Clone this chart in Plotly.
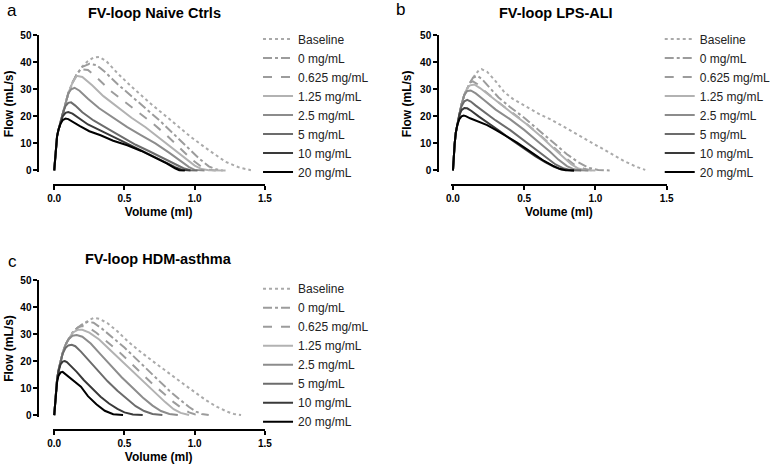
import plotly.graph_objects as go

W, H = 777, 469

DOSES = ['Baseline', '0 mg/mL', '0.625 mg/mL', '1.25 mg/mL', '2.5 mg/mL',
         '5 mg/mL', '10 mg/mL', '20 mg/mL']
TITLES = ['FV-loop Naive Ctrls', 'FV-loop LPS-ALI', 'FV-loop HDM-asthma']
LETTERS = ['a', 'b', 'c']
X_TICKS = [0, 0.5, 1.0, 1.5]
Y_TICKS = [0, 10, 20, 30, 40, 50]

# (volume ml, flow mL/s)
naive_baseline = [(0, 0), (0.005, 4), (0.012, 9), (0.02, 12.5), (0.03, 15), (0.045, 18), (0.06, 21), (0.08, 25),
                  (0.1, 28.5), (0.13, 32.5), (0.16, 35.5), (0.2, 38.5), (0.24, 40.5), (0.28, 41.8), (0.32, 42),
                  (0.37, 40.5), (0.45, 36), (0.55, 31), (0.68, 25), (0.82, 19), (0.97, 12.5), (1.1, 7.5),
                  (1.22, 3.2), (1.32, 1), (1.4, 0.1)]
naive_0 = [(0, 0), (0.005, 4), (0.012, 9), (0.02, 12.5), (0.03, 15), (0.045, 18), (0.06, 21), (0.08, 25),
           (0.1, 28.5), (0.13, 32.5), (0.16, 35.5), (0.2, 38.3), (0.25, 39.5), (0.3, 39), (0.36, 36.5),
           (0.45, 32), (0.55, 27.5), (0.65, 23), (0.75, 18.5), (0.85, 13.5), (0.95, 8.5), (1.03, 4.5),
           (1.1, 1.5), (1.15, 0.4), (1.2, 0)]
naive_0625 = [(0, 0), (0.005, 4), (0.012, 9), (0.02, 12.5), (0.03, 15), (0.045, 18), (0.06, 21), (0.08, 25),
              (0.1, 28.5), (0.13, 32.5), (0.16, 35.5), (0.2, 37.4), (0.24, 37.2), (0.3, 34.5), (0.4, 29.5),
              (0.5, 25.5), (0.6, 21.5), (0.7, 17.5), (0.8, 13), (0.9, 8), (0.98, 4), (1.05, 1.3),
              (1.1, 0.3), (1.15, 0)]
naive_125 = [(0, 0), (0.005, 4), (0.012, 9), (0.02, 12.5), (0.03, 15), (0.045, 18), (0.06, 21), (0.08, 25),
             (0.1, 28.5), (0.13, 32.5), (0.16, 35), (0.2, 34.6), (0.27, 31.5), (0.35, 27.5), (0.45, 23.5),
             (0.55, 19.5), (0.65, 16), (0.75, 12), (0.85, 8), (0.93, 4.5), (1.0, 1.8), (1.05, 0.5),
             (1.1, 0.1), (1.22, 0)]
naive_25 = [(0, 0), (0.005, 4), (0.012, 9), (0.02, 12.5), (0.03, 15), (0.045, 18), (0.06, 21), (0.08, 25),
            (0.1, 28.5), (0.12, 30), (0.145, 30.6), (0.18, 29.5), (0.24, 26.5), (0.32, 23), (0.42, 19.5),
            (0.52, 16), (0.62, 13), (0.72, 10), (0.82, 6.5), (0.9, 3.5), (0.96, 1.2), (1.0, 0.2), (1.07, 0)]
naive_5 = [(0, 0), (0.005, 4), (0.012, 9), (0.02, 12.5), (0.03, 15), (0.045, 18), (0.06, 21), (0.08, 23.8),
           (0.1, 25), (0.12, 25.2), (0.15, 24), (0.2, 21.5), (0.28, 18.5), (0.38, 15.5), (0.48, 12.5),
           (0.58, 9.5), (0.68, 7), (0.78, 4.5), (0.86, 2.2), (0.92, 0.8), (0.97, 0.1), (1.02, 0)]
naive_10 = [(0, 0), (0.005, 4), (0.012, 9), (0.02, 12.5), (0.03, 15), (0.045, 18), (0.06, 20), (0.08, 21.3),
            (0.1, 21.6), (0.13, 21), (0.17, 19.5), (0.24, 17), (0.32, 15), (0.42, 12.5), (0.52, 10),
            (0.62, 7.5), (0.72, 5), (0.8, 2.8), (0.86, 1.2), (0.91, 0.2), (0.97, 0)]
naive_20 = [(0, 0), (0.005, 4), (0.012, 9), (0.02, 12.5), (0.03, 15), (0.045, 17.3), (0.06, 18.6),
            (0.08, 19.2), (0.1, 19), (0.13, 18), (0.18, 16.5), (0.25, 14.5), (0.33, 13), (0.42, 11),
            (0.52, 9.3), (0.62, 7.2), (0.72, 4.8), (0.8, 2.6), (0.86, 0.8), (0.89, 0.1), (0.93, 0)]

lps_baseline = [(0, 0), (0.005, 5), (0.012, 10), (0.02, 14), (0.03, 17), (0.045, 21), (0.06, 24.5),
                (0.08, 28), (0.1, 30.5), (0.12, 32.5), (0.15, 35), (0.18, 37), (0.2, 37.5), (0.24, 36.5),
                (0.3, 33), (0.36, 29), (0.42, 26.5), (0.5, 24), (0.6, 21), (0.7, 18.5), (0.8, 15.5),
                (0.9, 12.5), (1.0, 9.5), (1.1, 6.5), (1.2, 3.5), (1.28, 1.5), (1.35, 0.2)]
lps_0 = [(0, 0), (0.005, 5), (0.012, 10), (0.02, 14), (0.03, 17), (0.045, 21), (0.06, 24.5), (0.08, 28),
         (0.1, 30.5), (0.12, 32.5), (0.14, 34.3), (0.17, 35), (0.2, 34), (0.25, 31), (0.32, 27),
         (0.4, 23.5), (0.5, 19.5), (0.6, 15), (0.7, 10.5), (0.8, 6), (0.88, 3), (0.95, 1), (1.02, 0.2),
         (1.1, 0)]
lps_0625 = [(0, 0), (0.005, 5), (0.012, 10), (0.02, 14), (0.03, 17), (0.045, 21), (0.06, 24.5), (0.08, 28),
            (0.1, 30.5), (0.12, 32.5), (0.14, 33), (0.17, 32), (0.22, 29.5), (0.3, 26), (0.4, 22),
            (0.5, 18), (0.6, 13.5), (0.7, 9), (0.78, 5), (0.85, 2.2), (0.92, 0.6), (0.97, 0.1), (1.02, 0)]
lps_125 = [(0, 0), (0.005, 5), (0.012, 10), (0.02, 14), (0.03, 17), (0.045, 21), (0.06, 24.5), (0.08, 28),
           (0.1, 30.5), (0.12, 31.5), (0.15, 31.8), (0.19, 30.5), (0.25, 28), (0.33, 24.5), (0.42, 21),
           (0.52, 17), (0.62, 12.5), (0.7, 8.5), (0.77, 5), (0.83, 2.3), (0.88, 0.7), (0.93, 0.1), (1.0, 0)]
lps_25 = [(0, 0), (0.005, 5), (0.012, 10), (0.02, 14), (0.03, 17), (0.045, 21), (0.06, 24.5), (0.08, 28),
          (0.1, 29.4), (0.125, 29.6), (0.16, 28.5), (0.22, 26), (0.3, 22.5), (0.4, 19), (0.5, 15),
          (0.6, 10.5), (0.68, 7), (0.74, 4), (0.8, 1.6), (0.85, 0.4), (0.9, 0.05), (0.95, 0)]
lps_5 = [(0, 0), (0.005, 5), (0.012, 10), (0.02, 14), (0.03, 17), (0.045, 21), (0.06, 23.8), (0.08, 25.6),
         (0.1, 26.1), (0.125, 25.5), (0.16, 24), (0.22, 21.5), (0.3, 18.5), (0.4, 15), (0.5, 11),
         (0.58, 7.5), (0.66, 4.5), (0.72, 2.2), (0.78, 0.7), (0.83, 0.1), (0.9, 0)]
lps_10 = [(0, 0), (0.005, 5), (0.012, 10), (0.02, 14), (0.03, 17), (0.045, 20.5), (0.06, 22.3),
          (0.08, 23.1), (0.1, 23), (0.13, 22), (0.18, 20), (0.25, 17.5), (0.33, 14.5), (0.42, 11),
          (0.5, 8), (0.58, 5.2), (0.65, 3), (0.71, 1.3), (0.76, 0.3), (0.8, 0.05), (0.85, 0)]
lps_20 = [(0, 0), (0.005, 5), (0.012, 10), (0.02, 14), (0.03, 16.8), (0.045, 19), (0.06, 20), (0.075, 20.3),
          (0.09, 20.1), (0.12, 19.3), (0.17, 18.2), (0.24, 16.8), (0.3, 15), (0.38, 12.5), (0.45, 10.3),
          (0.52, 7.8), (0.58, 5.5), (0.64, 3.5), (0.7, 1.8), (0.75, 0.6), (0.79, 0.1), (0.85, 0)]

hdm_baseline = [(0, 0), (0.005, 4), (0.012, 9), (0.02, 13), (0.03, 16.5), (0.045, 20), (0.06, 23),
                (0.08, 26), (0.1, 28), (0.13, 30.5), (0.17, 32.5), (0.21, 34), (0.25, 35.2), (0.28, 36),
                (0.32, 35.7), (0.38, 34), (0.45, 31), (0.52, 27.5), (0.6, 24), (0.7, 20), (0.8, 16),
                (0.9, 12.3), (1.0, 8.5), (1.08, 5.5), (1.16, 3), (1.23, 1.3), (1.28, 0.4), (1.33, 0)]
hdm_0 = [(0, 0), (0.005, 4), (0.012, 9), (0.02, 13), (0.03, 16.5), (0.045, 20), (0.06, 23), (0.08, 26),
         (0.1, 28), (0.13, 30.5), (0.17, 32.5), (0.21, 34), (0.24, 34.5), (0.28, 34.2), (0.34, 32),
         (0.42, 28.5), (0.5, 25), (0.58, 21), (0.66, 17), (0.74, 13), (0.82, 9), (0.9, 5.5), (0.96, 3),
         (1.01, 1.3), (1.05, 0.4), (1.1, 0)]
hdm_0625 = [(0, 0), (0.005, 4), (0.012, 9), (0.02, 13), (0.03, 16.5), (0.045, 20), (0.06, 23), (0.08, 26),
            (0.1, 28), (0.13, 30.5), (0.17, 32.5), (0.2, 33), (0.24, 32.6), (0.3, 30.5), (0.38, 27),
            (0.46, 23.5), (0.54, 19.5), (0.62, 15.5), (0.7, 11.5), (0.78, 8), (0.85, 4.8), (0.91, 2.5),
            (0.96, 1), (1.0, 0.3), (1.05, 0)]
hdm_125 = [(0, 0), (0.005, 4), (0.012, 9), (0.02, 13), (0.03, 16.5), (0.045, 20), (0.06, 23), (0.08, 26),
           (0.1, 28), (0.13, 30.5), (0.17, 31.6), (0.2, 31.6), (0.25, 30.5), (0.32, 28), (0.4, 24),
           (0.48, 20), (0.56, 16), (0.64, 12), (0.72, 8), (0.79, 4.8), (0.85, 2.2), (0.9, 0.8), (0.96, 0)]
hdm_25 = [(0, 0), (0.005, 4), (0.012, 9), (0.02, 13), (0.03, 16.5), (0.045, 20), (0.06, 23), (0.08, 26),
          (0.1, 28), (0.13, 29.4), (0.16, 29.6), (0.2, 29), (0.26, 26.5), (0.33, 22.5), (0.4, 18.5),
          (0.48, 14), (0.56, 10), (0.63, 6.5), (0.7, 3.5), (0.76, 1.5), (0.82, 0.4), (0.88, 0)]
hdm_5 = [(0, 0), (0.005, 4), (0.012, 9), (0.02, 13), (0.03, 16.5), (0.045, 20), (0.06, 22.7), (0.08, 24.8),
         (0.1, 25.8), (0.125, 26), (0.15, 25.5), (0.19, 23.5), (0.25, 20), (0.31, 16.5), (0.38, 12.5),
         (0.45, 9), (0.52, 5.8), (0.58, 3.3), (0.64, 1.5), (0.7, 0.4), (0.77, 0)]
hdm_10 = [(0, 0), (0.005, 4), (0.012, 9), (0.02, 13), (0.03, 16), (0.045, 18.8), (0.06, 19.8), (0.075, 20),
          (0.09, 19.6), (0.12, 18.2), (0.16, 16), (0.21, 13), (0.27, 9.8), (0.33, 6.8), (0.39, 4.3),
          (0.45, 2.3), (0.5, 1), (0.56, 0.2), (0.63, 0)]
hdm_20 = [(0, 0), (0.005, 4), (0.012, 8.5), (0.02, 12), (0.03, 14.5), (0.045, 15.8), (0.06, 16),
          (0.09, 14.8), (0.13, 13), (0.19, 10.5), (0.24, 7), (0.3, 4), (0.36, 1.6), (0.42, 0.3), (0.49, 0)]

PANEL_DATA = [
    [naive_baseline, naive_0, naive_0625, naive_125, naive_25, naive_5, naive_10, naive_20],
    [lps_baseline, lps_0, lps_0625, lps_125, lps_25, lps_5, lps_10, lps_20],
    [hdm_baseline, hdm_0, hdm_0625, hdm_125, hdm_25, hdm_5, hdm_10, hdm_20],
]

COLORS = ['#aaaaaa', '#9c9c9c', '#9c9c9c', '#b2b2b2', '#8c8c8c', '#6c6c6c', '#3a3a3a', '#000000']
DASHES = ['dot', 'dashdot', 'dash', 'solid', 'solid', 'solid', 'solid', 'solid']

FONT = 'Liberation Sans, Arial, sans-serif'

# pixel geometry for each panel: x0 px, x1.5 px, y0 px, y50 px, y-axis line px, x-axis line px
GEOM = [
    (50, 264, 168, 30, 34, 183),
    (455, 672, 168, 30, 440, 183),
    (50, 264, 418, 280, 34, 433),
]
TITLE_POS = [(152, 7), (560, 7), (156, 259)]
LETTER_POS = [(7, 5), (402, 4), (8, 261)]
LEGEND_POS = [(257, 19), (665, 19), (257, 274)]
YTITLE_STANDOFF = [3, 5, 3]


def px(x):
    return x / W


def py(y):
    return 1 - y / H


fig = go.Figure()
layout = {}
annotations = []

for i, (title, curves) in enumerate(zip(TITLES, PANEL_DATA)):
    sfx = '' if i == 0 else str(i + 1)
    leg = 'legend' if i == 0 else 'legend' + str(i + 1)
    x0, x15, y0, y50, yax, xax = GEOM[i]
    xs = (x15 - x0) / 1.5
    ys = (y0 - y50) / 50.0
    xlo, ylo = -0.012, -0.7
    for name, pts, col, dash in zip(DOSES, curves, COLORS, DASHES):
        fig.add_trace(go.Scatter(
            x=[p[0] for p in pts], y=[p[1] for p in pts],
            mode='lines', name=name,
            line=dict(color=col, width=2, dash=dash),
            xaxis='x' + sfx, yaxis='y' + sfx, legend=leg,
        ))
    layout['xaxis' + sfx] = dict(
        domain=[px(x0 + xlo * xs), px(x15)], range=[xlo, 1.5],
        anchor='free', position=py(xax),
        tickvals=X_TICKS, tickformat='.1f',
        showline=True, linecolor='black', linewidth=2,
        ticks='outside', ticklen=4, tickwidth=2, tickcolor='black',
        showgrid=False, zeroline=False,
        tickfont=dict(family=FONT, size=10, color='black', weight='bold'),
        title=dict(text='Volume (ml)', standoff=4,
                   font=dict(family=FONT, size=12, color='black', weight='bold')),
    )
    layout['yaxis' + sfx] = dict(
        domain=[py(y0 - ylo * ys), py(y50)], range=[ylo, 50],
        anchor='free', position=px(yax),
        tickvals=Y_TICKS,
        showline=True, linecolor='black', linewidth=2,
        ticks='outside', ticklen=4, tickwidth=2, tickcolor='black',
        showgrid=False, zeroline=False,
        tickfont=dict(family=FONT, size=10, color='black', weight='bold'),
        title=dict(text='Flow (mL/s)', standoff=YTITLE_STANDOFF[i],
                   font=dict(family=FONT, size=12, color='black', weight='bold')),
    )
    lx, ly = LEGEND_POS[i]
    layout[leg] = dict(
        x=px(lx), y=py(ly), xanchor='left', yanchor='top',
        font=dict(family=FONT, size=12, color='#222222'),
        bgcolor='rgba(0,0,0,0)', borderwidth=0,
    )
    tx, ty = TITLE_POS[i]
    annotations.append(dict(
        text=title, x=px(tx), y=py(ty), xref='paper', yref='paper',
        xanchor='center', yanchor='middle', showarrow=False,
        font=dict(family=FONT, size=14.5, color='black', weight='bold'),
    ))
    lx2, ly2 = LETTER_POS[i]
    annotations.append(dict(
        text=LETTERS[i], x=px(lx2), y=py(ly2), xref='paper', yref='paper',
        xanchor='center', yanchor='middle', showarrow=False,
        font=dict(family=FONT, size=17, color='black'),
    ))

fig.update_layout(
    width=W, height=H,
    margin=dict(l=0, r=0, t=0, b=0),
    plot_bgcolor='white', paper_bgcolor='white',
    annotations=annotations,
    **layout,
)

fig.write_html('out.html', config={'displayModeBar': False},
               post_script="document.body.style.margin='0';")
